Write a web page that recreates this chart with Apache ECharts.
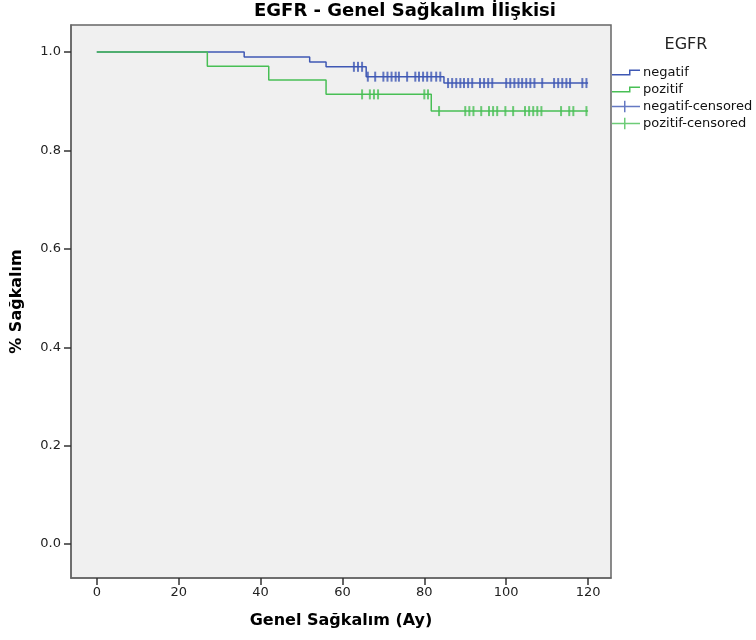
<!DOCTYPE html>
<html lang="tr">
<head>
    <meta charset="utf-8"/>
    <title>EGFR - Genel Sağkalım İlişkisi</title>
    <script src="https://cdn.jsdelivr.net/npm/echarts@6/dist/echarts.min.js"></script>
    <style>
        body { margin: 0; background: #fff; }
        #main { width: 756px; height: 640px; }
    </style>
</head>
<body>
<div id="main"></div>
<script>
    // survival steps (time in months, survival proportion)
    var negTimes = [0, 36, 52, 56, 65.8, 84.8, 120];
    var negSurv = [1.0, 0.99, 0.98, 0.97, 0.95, 0.937, 0.937];
    var posTimes = [0, 27, 42, 56, 81.7, 120];
    var posSurv = [1.0, 0.971, 0.943, 0.914, 0.88, 0.88];

    // censored observations
    var negCensored = [62.8, 63.8, 64.8, 66.2, 68, 70, 71, 72, 73, 73.8, 75.8, 77.8, 78.7, 79.7, 80.7, 81.7, 82.9, 83.9,
        85.8, 86.8, 87.8, 88.8, 89.7, 90.7, 91.7, 93.6, 94.6, 95.6, 96.6, 100, 101, 102, 103, 103.9, 104.9, 105.9,
        106.9, 108.8, 111.7, 112.7, 113.7, 114.7, 115.6, 118.6, 119.6];
    var posCensored = [64.8, 66.7, 67.7, 68.7, 80, 80.9, 83.6, 90, 91, 92, 93.9, 95.8, 96.8, 97.8, 99.8, 101.7,
        104.6, 105.6, 106.6, 107.6, 108.6, 113.4, 115.4, 116.4, 119.6];

    var xTicks = [0, 20, 40, 60, 80, 100, 120];
    var yTicks = [0, 0.2, 0.4, 0.6, 0.8, 1.0];

    var blue = '#3F58B4';
    var green = '#48BF55';

    function stepData(times, surv) {
        return times.map(function (t, i) { return [t, surv[i]]; });
    }
    function levelAt(times, surv, t) {
        var s = surv[0];
        for (var i = 0; i < times.length; i++) {
            if (times[i] <= t) s = surv[i];
        }
        return s;
    }
    function censorData(cens, times, surv) {
        return cens.map(function (t) { return [t, levelAt(times, surv, t)]; });
    }

    // legend glyphs: a small step and a plus
    var stepIcon = 'path://M0,4.5 L17,4.5 L17,0 L28,0 L28,1.5 L18.5,1.5 L18.5,6 L0,6 Z';
    var plusIcon = 'path://M0,5 L12,5 L12,0 L13.5,0 L13.5,5 L28,5 L28,6.5 L13.5,6.5 L13.5,11.5 L12,11.5 L12,6.5 L0,6.5 Z';

    var chart = echarts.init(document.getElementById('main'));
    var font = 'DejaVu Sans, sans-serif';

    var option = {
        animation: false,
        textStyle: { fontFamily: font },
        title: [{
            text: 'EGFR - Genel Sağkalım İlişkisi',
            left: 405,
            top: 2,
            padding: 0,
            textAlign: 'center',
            textStyle: { fontSize: 18, fontWeight: 'bold', color: '#000', fontFamily: font }
        }, {
            text: 'EGFR',
            left: 686,
            top: 37,
            padding: 0,
            textAlign: 'center',
            textStyle: { fontSize: 16, fontWeight: 'normal', color: '#222', fontFamily: font }
        }],
        legend: {
            orient: 'vertical',
            left: 612,
            top: 66,
            padding: 0,
            itemWidth: 28,
            itemHeight: 12,
            itemGap: 4,
            textStyle: { fontSize: 13, lineHeight: 13, color: '#111', padding: [0, 0, 0, -2] },
            data: [
                { name: 'negatif', icon: stepIcon },
                { name: 'pozitif', icon: stepIcon },
                { name: 'negatif-censored', icon: plusIcon },
                { name: 'pozitif-censored', icon: plusIcon }
            ]
        },
        grid: {
            left: 71,
            top: 25,
            width: 540,
            height: 553,
            show: true,
            backgroundColor: '#F0F0F0',
            borderColor: '#666',
            borderWidth: 1.5
        },
        xAxis: {
            type: 'value',
            min: -6.3,
            max: 125.6,
            name: 'Genel Sağkalım (Ay)',
            nameLocation: 'middle',
            nameGap: 35,
            nameTextStyle: { fontSize: 16, fontWeight: 'bold', color: '#000' },
            splitLine: { show: false },
            axisLine: { show: true, onZero: false, lineStyle: { color: '#666', width: 1.5 } },
            axisTick: { show: true, length: 7, customValues: xTicks, lineStyle: { color: '#333', width: 1.5 } },
            axisLabel: { customValues: xTicks, fontSize: 13, color: '#222', margin: 8 }
        },
        yAxis: {
            type: 'value',
            min: -0.069,
            max: 1.055,
            name: '% Sağkalım',
            nameLocation: 'middle',
            nameGap: 46,
            nameTextStyle: { fontSize: 16, fontWeight: 'bold', color: '#000' },
            splitLine: { show: false },
            axisLine: { show: true, onZero: false, lineStyle: { color: '#666', width: 1.5 } },
            axisTick: { show: true, length: 7, customValues: yTicks, lineStyle: { color: '#333', width: 1.5 } },
            axisLabel: {
                customValues: yTicks, fontSize: 13, color: '#222', margin: 10,
                formatter: function (v) { return v.toFixed(1); }
            }
        },
        series: [{
            name: 'negatif',
            type: 'line',
            step: 'end',
            symbol: 'none',
            data: stepData(negTimes, negSurv),
            lineStyle: { color: blue, width: 1.5 },
            itemStyle: { color: blue },
            z: 2
        }, {
            name: 'negatif-censored',
            type: 'scatter',
            symbol: 'rect',
            symbolSize: [2, 10],
            data: censorData(negCensored, negTimes, negSurv),
            itemStyle: { color: blue },
            z: 3
        }, {
            name: 'pozitif',
            type: 'line',
            step: 'end',
            symbol: 'none',
            data: stepData(posTimes, posSurv),
            lineStyle: { color: green, width: 1.5 },
            itemStyle: { color: green },
            z: 10
        }, {
            name: 'pozitif-censored',
            type: 'scatter',
            symbol: 'rect',
            symbolSize: [2, 10],
            data: censorData(posCensored, posTimes, posSurv),
            itemStyle: { color: green },
            z: 10
        }]
    };
    chart.setOption(option);
</script>
</body>
</html>
